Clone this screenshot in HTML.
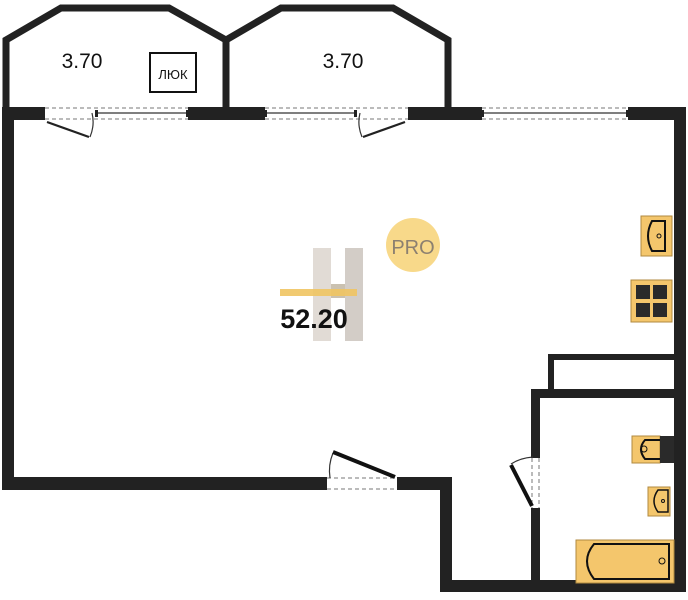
<!DOCTYPE html>
<html><head><meta charset="utf-8"><style>
html,body{margin:0;padding:0;background:#fff;width:688px;height:600px;overflow:hidden}
</style></head><body>
<svg width="688" height="600" viewBox="0 0 688 600" xmlns="http://www.w3.org/2000/svg" font-family="Liberation Sans, DejaVu Sans, sans-serif">
<polyline points="6,110 6,40 61,8 169,8 226,40 226,110" fill="none" stroke="#222" stroke-width="7" stroke-linejoin="miter"/>
<polyline points="226,40 281,8 393,8 448,40 448,110" fill="none" stroke="#222" stroke-width="7"/>
<text x="82" y="68" font-size="21" text-anchor="middle" fill="#111">3.70</text>
<text x="343" y="68" font-size="21" text-anchor="middle" fill="#111">3.70</text>
<rect x="150" y="53" width="46" height="39" fill="none" stroke="#111" stroke-width="2"/>
<text x="173" y="79" font-size="13" text-anchor="middle" fill="#111">ЛЮК</text>
<g fill="#222">
<rect x="2" y="107" width="43" height="13"/>
<rect x="188" y="107" width="77" height="13"/>
<rect x="408" y="107" width="74" height="13"/>
<rect x="628" y="107" width="58" height="13"/>
<rect x="2" y="107" width="12" height="383"/>
<rect x="674" y="107" width="12" height="485"/>
<rect x="2" y="477" width="325" height="13"/>
<rect x="397" y="477" width="55" height="13"/>
<rect x="440" y="477" width="12" height="115"/>
<rect x="440" y="580" width="246" height="12"/>
<rect x="531" y="389" width="155" height="9"/>
<rect x="531" y="389" width="9" height="69"/>
<rect x="531" y="508" width="9" height="80"/>
<rect x="548" y="354" width="138" height="6"/>
<rect x="548" y="354" width="6" height="36"/>
</g>
<g stroke="#777" stroke-width="1" stroke-dasharray="4,3" fill="none">
<line x1="45" y1="108" x2="188" y2="108"/><line x1="45" y1="119" x2="188" y2="119"/>
<line x1="265" y1="108" x2="408" y2="108"/><line x1="265" y1="119" x2="408" y2="119"/>
<line x1="482" y1="108" x2="628" y2="108"/><line x1="482" y1="119" x2="628" y2="119"/>
<line x1="327" y1="478" x2="397" y2="478"/><line x1="327" y1="489" x2="397" y2="489"/>
<line x1="532" y1="458" x2="532" y2="508"/><line x1="539" y1="458" x2="539" y2="508"/>
</g>
<g stroke="#333" stroke-width="1.2" fill="none">
<line x1="97" y1="113" x2="188" y2="113"/>
<line x1="267" y1="113" x2="355" y2="113"/>
<line x1="484" y1="113" x2="626" y2="113"/>
<path d="M92,113 Q95,125 90,137"/>
<path d="M360,113 Q357,125 362,137"/>
<path d="M333,453 Q328,465 330,478"/>
<path d="M511,464 Q520,458 533,457"/>
</g>
<g stroke="#222" stroke-width="2.2" fill="none">
<path d="M47,122 L89,137"/>
<path d="M405,122 L363,137"/>
</g>
<g fill="#222">
<rect x="95" y="110" width="3" height="7"/><rect x="186" y="110" width="3" height="7"/>
<rect x="264" y="110" width="3" height="7"/><rect x="354" y="110" width="3" height="7"/>
<rect x="481" y="110" width="3" height="7"/><rect x="626" y="110" width="3" height="7"/>
</g>
<line x1="333" y1="452" x2="395" y2="477" stroke="#111" stroke-width="4"/>
<line x1="511" y1="465" x2="532" y2="506" stroke="#111" stroke-width="4"/>
<rect x="641" y="216" width="31" height="40" fill="#f4c66c" stroke="#b08a40"/>
<path d="M665,221 L652,221 Q644,236 652,251 L665,251 Z" fill="none" stroke="#111" stroke-width="2"/>
<circle cx="659" cy="236" r="2" fill="none" stroke="#111"/>
<rect x="631" y="280" width="41" height="42" fill="#f4c66c" stroke="#b08a40"/>
<g fill="#2a2a2a"><rect x="636" y="285" width="14" height="14"/><rect x="653" y="285" width="14" height="14"/><rect x="636" y="303" width="14" height="14"/><rect x="653" y="303" width="14" height="14"/></g>
<rect x="632" y="436" width="28" height="27" fill="#f4c66c" stroke="#b08a40"/>
<rect x="660" y="436" width="14" height="27" fill="#2a2a2a"/>
<path d="M660,440 L645,440 Q637,449 645,459 L660,459" fill="none" stroke="#111" stroke-width="2"/>
<circle cx="644" cy="449" r="3" fill="none" stroke="#111"/>
<rect x="648" y="487" width="22" height="29" fill="#f4c66c" stroke="#b08a40"/>
<path d="M668,490 L658,490 Q650,501 658,512 L668,512 Z" fill="none" stroke="#111" stroke-width="1.5"/>
<circle cx="663" cy="501" r="1.5" fill="none" stroke="#111"/>
<rect x="576" y="540" width="98" height="43" fill="#f4c66c" stroke="#b08a40"/>
<path d="M669,544 L594,544 Q580,561 594,579 L669,579 Z" fill="none" stroke="#111" stroke-width="2"/>
<circle cx="662" cy="561" r="3" fill="none" stroke="#111"/>
<g opacity="0.55">
<rect x="313" y="248" width="18" height="93" fill="#c9bfb4"/>
<rect x="345" y="248" width="18" height="93" fill="#b0a69b"/>
<rect x="331" y="284" width="14" height="14" fill="#a09070"/>
</g>
<rect x="280" y="289" width="77" height="7" fill="#f0c462" opacity="0.9"/>
<circle cx="413" cy="245" r="27" fill="#f8d98a"/>
<text x="413" y="254" font-size="20" text-anchor="middle" fill="#8c8070">PRO</text>
<text x="314" y="328" font-size="27" font-weight="bold" text-anchor="middle" fill="#111">52.20</text>
</svg>
</body></html>
